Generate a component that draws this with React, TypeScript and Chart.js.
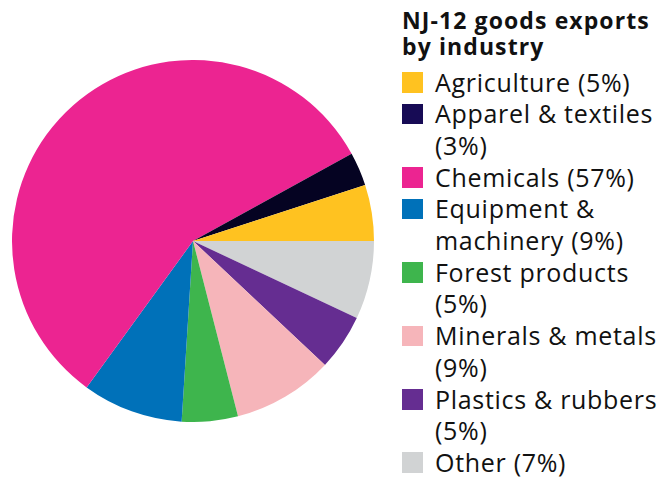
import React, { useEffect, useRef } from "react";
import { Chart, registerables } from "chart.js";

Chart.register(...registerables);

const TITLE_LINES = ["NJ-12 goods exports", "by industry"];
const CATEGORIES = [
  "Agriculture",
  "Apparel & textiles",
  "Chemicals",
  "Equipment & machinery",
  "Forest products",
  "Minerals & metals",
  "Plastics & rubbers",
  "Other",
];
const SHARES = [5, 3, 57, 9, 5, 9, 5, 7];
const SLICE_COLORS = [
  "#FFC220",
  "#050322",
  "#EC2491",
  "#0071B9",
  "#3EB54D",
  "#F6B5BA",
  "#652D91",
  "#D1D3D4",
];
const SWATCH_COLORS = [
  "#FFC220",
  "#170B55",
  "#EC2491",
  "#0071B9",
  "#3EB54D",
  "#F6B5BA",
  "#652D91",
  "#D1D3D4",
];

const FONT = "'Open Sans', 'Noto Sans', sans-serif";

export default function App() {
  const canvasRef = useRef<HTMLCanvasElement | null>(null);

  useEffect(() => {
    const canvas = canvasRef.current;
    if (!canvas) return;
    const labels = [...CATEGORIES].reverse();
    const data = [...SHARES].reverse();
    const colors = [...SLICE_COLORS].reverse();
    const chart = new Chart(canvas, {
      type: "pie",
      data: {
        labels,
        datasets: [
          {
            data,
            backgroundColor: colors,
            borderWidth: 0,
            hoverOffset: 0,
            offset: 0,
          },
        ],
      },
      options: {
        animation: false,
        responsive: false,
        rotation: 90,
        layout: { padding: 0 },
        plugins: {
          legend: { display: false },
          tooltip: { enabled: false },
          title: { display: false },
        },
      },
    });
    return () => chart.destroy();
  }, []);

  return (
    <div
      style={{
        position: "absolute",
        left: 0,
        top: 0,
        width: 672,
        height: 478,
        background: "#fff",
        overflow: "hidden",
        fontFamily: FONT,
      }}
    >
      <canvas
        ref={canvasRef}
        width={362}
        height={362}
        style={{ position: "absolute", left: 12, top: 60, width: 362, height: 362 }}
      />
      <div
        style={{
          position: "absolute",
          left: 402,
          top: 7,
          fontSize: 23,
          lineHeight: "26px",
          fontWeight: 700,
          letterSpacing: "1.1px",
          color: "#111",
          whiteSpace: "nowrap",
        }}
      >
        {TITLE_LINES.map((t, i) => (
          <div key={i}>{t}</div>
        ))}
      </div>
      <div
        style={{
          position: "absolute",
          left: 402,
          top: 66.5,
          width: 270,
          fontSize: 25,
          lineHeight: "31.7px",
          letterSpacing: "0.7px",
          color: "#111",
        }}
      >
        {CATEGORIES.map((c, i) => (
          <div key={c} style={{ position: "relative", paddingLeft: 33 }}>
            <span
              style={{
                position: "absolute",
                left: 0,
                top: 5.5,
                width: 21,
                height: 20.5,
                background: SWATCH_COLORS[i],
              }}
            />
            <div style={{ width: 237 }}>{`${c} (${SHARES[i]}%)`}</div>
          </div>
        ))}
      </div>
    </div>
  );
}
